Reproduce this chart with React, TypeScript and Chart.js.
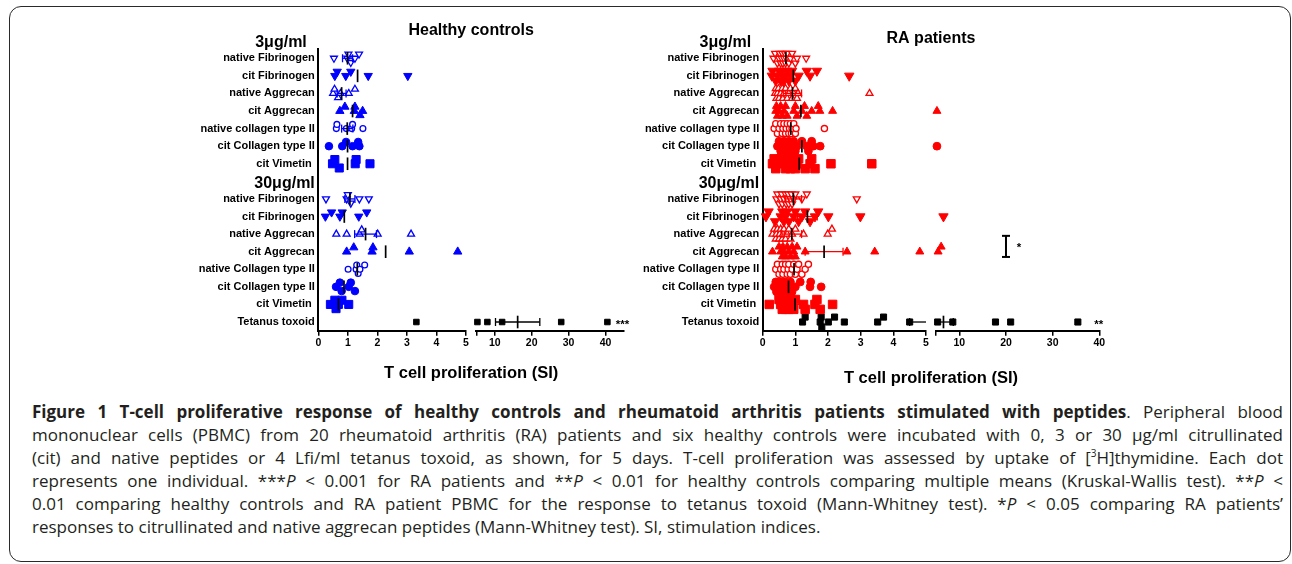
import React, { useEffect, useLayoutEffect, useRef } from 'react';
import { Chart, registerables } from 'chart.js';

Chart.register(...registerables);

const CHART_FONT = "'Liberation Sans', Arial, Helvetica, sans-serif";
const CAPTION_FONT = "'Open Sans', 'Noto Sans', sans-serif";

// ---------- categories & tick labels ----------
const labels3ug = ['native Fibrinogen', 'cit Fibrinogen', 'native Aggrecan', 'cit Aggrecan', 'native collagen type II', 'cit Collagen type II', 'cit Vimetin '];
const labels30ug = ['native Fibrinogen', 'cit Fibrinogen', 'native Aggrecan', 'cit Aggrecan', 'native Collagen type II', 'cit Collagen type II', 'cit Vimetin '];
const labelTetanus = 'Tetanus toxoid';
const categories = [...labels3ug, ...labels30ug, labelTetanus];
const categoryRows = [0, 1, 2, 3, 4, 5, 6, 8, 9, 10, 11, 12, 13, 14, 15];
const doseHeaders = ['3\u03bcg/ml\u2002', '30\u03bcg/ml'];
const doseHeaderRows = [-0.87, 7.12];
const markerKinds = ['triDownOpen', 'triDown', 'triOpen', 'tri', 'circleOpen', 'circle', 'square',
  'triDownOpen', 'triDown', 'triOpen', 'tri', 'circleOpen', 'circle', 'square', 'tetanus'];

const xLowTicks = [0, 1, 2, 3, 4, 5];
const xHighTicks = [5, 10, 20, 30, 40];
const X_BREAK = 5;
const hcHighMax = 45;
const raHighMax = 40;

// ---------- healthy controls (n = 6) ----------
const hcValues: number[][] = [
  [0.53, 0.98, 1.02, 1.1, 1.24, 1.38],
  [0.56, 0.64, 0.93, 1.1, 1.69, 3.03],
  [0.5, 0.55, 0.67, 0.75, 1.03, 1.24],
  [0.73, 0.9, 1.22, 1.24, 1.41, 1.5],
  [0.61, 0.63, 0.95, 1.13, 1.16, 1.51],
  [0.36, 0.81, 0.94, 1.16, 1.35, 1.39],
  [0.48, 0.56, 0.71, 1.25, 1.28, 1.75],
  [0.26, 0.96, 1.0, 1.1, 1.39, 1.71],
  [0.24, 0.45, 0.73, 0.81, 1.37, 1.64],
  [0.61, 0.96, 1.4, 1.47, 2.01, 3.14],
  [0.96, 1.2, 1.82, 1.85, 3.08, 4.72],
  [1.01, 1.28, 1.3, 1.35, 1.41, 1.57],
  [0.6, 0.73, 0.79, 1.03, 1.1, 1.24],
  [0.41, 0.56, 0.6, 0.68, 0.8, 1.03],
  [3.32, 5.3, 8.0, 12.0, 28.0, 40.5],
];
const hcMeans = [0.99, 1.33, 0.79, 1.16, 0.98, 0.99, 0.99, 1.07, 0.88, 1.6, 2.28, 1.32, 0.87, 0.68, 16.2];
const hcSems = [0.17, 0, 0.15, 0, 0.19, 0, 0, 0.17, 0, 0.37, 0, 0, 0, 0, 6.0];
const hcNotes = [{ text: '***', x: 44.6, row: 15 }];

// ---------- RA patients (n = 20) ----------
const raValues: number[][] = [
  [0.33, 0.38, 0.45, 0.5, 0.52, 0.55, 0.58, 0.6, 0.62, 0.65, 0.68, 0.7, 0.72, 0.75, 0.8, 0.85, 0.9, 1.0, 1.05, 1.33],
  [0.28, 0.3, 0.4, 0.45, 0.5, 0.55, 0.6, 0.62, 0.65, 0.7, 0.75, 0.8, 0.85, 0.9, 1.0, 1.1, 1.35, 1.45, 1.66, 2.65],
  [0.38, 0.4, 0.42, 0.45, 0.48, 0.5, 0.55, 0.6, 0.62, 0.65, 0.7, 0.75, 0.8, 0.85, 0.9, 0.95, 1.0, 1.05, 1.08, 3.27],
  [0.4, 0.42, 0.45, 0.5, 0.55, 0.6, 0.65, 0.7, 0.75, 0.95, 1.0, 1.05, 1.2, 1.28, 1.35, 1.5, 1.7, 1.75, 2.14, 5.2],
  [0.35, 0.4, 0.45, 0.5, 0.55, 0.6, 0.62, 0.65, 0.7, 0.72, 0.75, 0.8, 0.82, 0.85, 0.88, 0.9, 0.95, 1.0, 1.02, 1.89],
  [0.45, 0.5, 0.55, 0.6, 0.65, 0.7, 0.75, 0.8, 0.85, 0.9, 0.95, 1.0, 1.05, 1.2, 1.35, 1.4, 1.5, 1.55, 1.76, 5.2],
  [0.3, 0.35, 0.4, 0.5, 0.55, 0.7, 0.75, 0.8, 0.85, 0.9, 0.95, 1.0, 1.05, 1.1, 1.3, 1.45, 1.5, 1.6, 2.09, 3.34],
  [0.42, 0.45, 0.5, 0.55, 0.58, 0.6, 0.65, 0.7, 0.72, 0.75, 0.78, 0.8, 0.85, 0.88, 0.9, 0.95, 1.0, 1.2, 1.35, 2.88],
  [0.1, 0.18, 0.38, 0.55, 0.6, 0.65, 0.7, 0.75, 0.8, 0.95, 1.0, 1.1, 1.2, 1.3, 1.45, 1.6, 1.7, 2.01, 2.99, 6.6],
  [0.3, 0.35, 0.4, 0.42, 0.45, 0.5, 0.52, 0.55, 0.6, 0.62, 0.65, 0.7, 0.75, 0.8, 0.85, 0.9, 1.0, 1.25, 1.99, 2.12],
  [0.3, 0.5, 0.55, 0.6, 0.62, 0.65, 0.7, 0.75, 0.8, 0.85, 0.9, 0.95, 1.0, 1.05, 1.3, 2.58, 3.43, 4.81, 5.45, 6.1],
  [0.4, 0.45, 0.5, 0.55, 0.6, 0.62, 0.65, 0.7, 0.75, 0.78, 0.8, 0.85, 0.9, 0.95, 1.0, 1.05, 1.1, 1.2, 1.3, 1.4],
  [0.35, 0.4, 0.42, 0.45, 0.5, 0.52, 0.55, 0.6, 0.62, 0.65, 0.7, 0.75, 0.8, 0.85, 0.9, 1.0, 1.15, 1.45, 1.47, 1.79],
  [0.2, 0.5, 0.55, 0.6, 0.62, 0.65, 0.7, 0.72, 0.75, 0.8, 0.85, 0.9, 0.95, 1.0, 1.25, 1.3, 1.6, 1.66, 1.76, 2.14],
  [1.22, 1.3, 1.76, 1.79, 1.81, 2.01, 2.2, 2.5, 3.52, 3.7, 4.5, 5.35, 8.6, 17.75, 21.0, 35.4],
];
const raMeans = [0.71, 0.94, 0.91, 1.17, 0.86, 1.2, 1.12, 0.94, 1.37, 0.89, 1.88, 0.96, 0.79, 0.99, 6.6];
const raSems = [0, 0, 0.28, 0, 0, 0, 0, 0.25, 0.3, 0.3, 0.58, 0, 0, 0.15, 2.1];
const raNotes = [{ text: '**', x: 39.9, row: 15 }, { text: '*', x: 22.8, row: 10.62 }];
const raBracket = [{ x: 20, row: 10.1 }, { x: 20, row: 11.3 }];

// ---------- marker shapes ----------
const markerShapes: Record<string, { style: string; rot: number; open: boolean }> = {
  triDownOpen: { style: 'triangle', rot: 180, open: true },
  triDown: { style: 'triangle', rot: 180, open: false },
  triOpen: { style: 'triangle', rot: 0, open: true },
  tri: { style: 'triangle', rot: 0, open: false },
  circleOpen: { style: 'circle', rot: 0, open: true },
  circle: { style: 'circle', rot: 0, open: false },
  square: { style: 'rect', rot: 0, open: false },
  tetanus: { style: 'rect', rot: 0, open: false },
};

type Note = { text: string; x: number; row: number };
type Panel = {
  key: string; title: string; values: number[][]; means: number[]; sems: number[];
  notes: Note[]; bracket?: { x: number; row: number }[];
  color: string; highMax: number; radii: Record<string, number>;
  left: number; width: number; height: number; yAxisWidth: number; padRight: number;
  titlePad: { top: number; bottom: number }; xTitlePad: { top: number; bottom: number };
  gapWeight: number; ppuLow: number; ppuHigh: number; jitterStep: number;
};

const panels: Panel[] = [
  {
    key: 'hc', title: 'Healthy controls', values: hcValues, means: hcMeans, sems: hcSems, notes: hcNotes,
    color: '#0000ff', highMax: hcHighMax,
    radii: { triDownOpen: 4, triDown: 4.8, triOpen: 4, tri: 4.8, circleOpen: 2.9, circle: 3.8, square: 5.7, tetanus: 3.9 },
    left: 0, width: 640, height: 387, yAxisWidth: 318.3, padRight: 16,
    titlePad: { top: 21.4, bottom: 8 }, xTitlePad: { top: 12.4, bottom: 4 },
    gapWeight: 0.0697, ppuLow: 29.5, ppuHigh: 3.69, jitterStep: 0.24,
  },
  {
    key: 'ra', title: 'RA patients', values: raValues, means: raMeans, sems: raSems, notes: raNotes, bracket: raBracket,
    color: '#ff0000', highMax: raHighMax,
    radii: { triDownOpen: 4, triDown: 5.4, triOpen: 4, tri: 4.6, circleOpen: 3.1, circle: 3.9, square: 6, tetanus: 4.3 },
    left: 640, width: 480, height: 392, yAxisWidth: 122.7, padRight: 20.7,
    titlePad: { top: 28.7, bottom: 0.7 }, xTitlePad: { top: 17.4, bottom: 4 },
    gapWeight: 0.0613, ppuLow: 32.6, ppuHigh: 4.65, jitterStep: 0.28,
  },
];

// y tick values and their texts
const yTickValues = [doseHeaderRows[0], ...categoryRows.slice(0, 7), doseHeaderRows[1], ...categoryRows.slice(7)];
const yTickText = new Map<number, string>();
yTickText.set(doseHeaderRows[0], doseHeaders[0]);
yTickText.set(doseHeaderRows[1], doseHeaders[1]);
categoryRows.forEach((r, i) => yTickText.set(r, categories[i]));

// spread overlapping points of one row vertically (GraphPad-like column scatter)
function jitter(vals: number[], p: Panel, radius: number): number[] {
  const px = (v: number) => (v <= X_BREAK ? v * p.ppuLow : X_BREAK * p.ppuLow + 10 + (v - X_BREAK) * p.ppuHigh);
  const order = vals.map((_, i) => i).sort((a, b) => vals[a] - vals[b]);
  const last: Record<number, number> = {};
  const levels = [0, -1, 1];
  const minGap = radius * 1.7;
  const out = new Array(vals.length).fill(0);
  for (const i of order) {
    const pos = px(vals[i]);
    let best = 0;
    let bestD = -1;
    for (const L of levels) {
      const d = last[L] === undefined ? Infinity : pos - last[L];
      if (d >= minGap) { best = L; break; }
      if (d > bestD) { bestD = d; best = L; }
    }
    last[best] = pos;
    out[i] = best * p.jitterStep;
  }
  return out;
}

function buildDatasets(p: Panel) {
  const sets: any[] = [];
  p.values.forEach((vals, i) => {
    const row = categoryRows[i];
    const kind = markerKinds[i];
    const shape = markerShapes[kind];
    const r = p.radii[kind];
    const col = kind === 'tetanus' ? '#000000' : p.color;
    const offs = jitter(vals, p, r);
    const low: any[] = [];
    const high: any[] = [];
    vals.forEach((v, k) => (v <= X_BREAK ? low : high).push({ x: v, y: row + offs[k] }));
    ([['x', low], ['x2', high]] as [string, any[]][]).forEach(([axis, pts]) => {
      if (!pts.length) return;
      sets.push({
        type: 'scatter', label: categories[i], xAxisID: axis, data: pts,
        pointStyle: shape.style, pointRotation: shape.rot, pointRadius: r,
        pointBackgroundColor: shape.open ? '#ffffff' : col, pointBorderColor: col,
        pointBorderWidth: shape.open ? 1.3 : 1, clip: false, order: 2,
      });
    });
    const m = p.means[i];
    const s = p.sems[i];
    if (s > 0) {
      const lo = m - s;
      const hi = m + s;
      const pieces: [string, number, number, number, number][] =
        hi <= X_BREAK ? [['x', lo, hi, 4, 4]]
          : lo >= X_BREAK ? [['x2', lo, hi, 4, 4]]
            : [['x', lo, X_BREAK, 4, 0], ['x2', X_BREAK, hi, 0, 4]];
      pieces.forEach(([axis, a, b, ra, rb]) => sets.push({
        type: 'scatter', label: 'SEM', xAxisID: axis, data: [{ x: a, y: row }, { x: b, y: row }],
        showLine: true, borderColor: col, borderWidth: 1.3,
        pointStyle: 'line', pointRotation: 90, pointRadius: [ra, rb],
        pointBorderColor: col, pointBorderWidth: 1.3, clip: false, order: 1,
      }));
    }
    sets.push({
      type: 'scatter', label: 'mean', xAxisID: m <= X_BREAK ? 'x' : 'x2', data: [{ x: m, y: row }],
      pointStyle: 'line', pointRotation: 90, pointRadius: 6.3,
      pointBorderColor: '#000000', pointBorderWidth: 1.7, clip: false, order: 0,
    });
  });
  if (p.bracket) {
    sets.push({
      type: 'scatter', label: 'bracket', xAxisID: 'x2', data: p.bracket.map((b) => ({ x: b.x, y: b.row })),
      showLine: true, borderColor: '#000000', borderWidth: 2,
      pointStyle: 'line', pointRotation: 0, pointRadius: 4,
      pointBorderColor: '#000000', pointBorderWidth: 2, clip: false, order: 0,
    });
  }
  return sets;
}

function notesPlugin(p: Panel) {
  return {
    id: 'notes_' + p.key,
    afterDatasetsDraw(chart: any) {
      const { ctx } = chart;
      const xs = chart.scales.x2;
      const ys = chart.scales.y;
      ctx.save();
      ctx.fillStyle = '#000000';
      ctx.font = `bold 11.5px ${CHART_FONT}`;
      ctx.textAlign = 'center';
      ctx.textBaseline = 'middle';
      p.notes.forEach((n) => ctx.fillText(n.text, xs.getPixelForValue(n.x), ys.getPixelForValue(n.row) + 2.5));
      ctx.restore();
    },
  };
}

function buildConfig(p: Panel): any {
  const xTickFont = { family: CHART_FONT, size: 10.5, weight: 'bold' };
  const xGrid = { display: true, drawOnChartArea: false, drawTicks: true, tickLength: 5, color: '#000000', lineWidth: 1.5 };
  const xBorder = { display: true, color: '#000000', width: 2 };
  const fitX = (s: any) => { s.height = 20; };
  return {
    type: 'scatter',
    data: { datasets: buildDatasets(p) },
    plugins: [notesPlugin(p)],
    options: {
      responsive: false,
      animation: false,
      events: [],
      layout: { padding: { left: 0, right: p.padRight, top: 0, bottom: 0 } },
      plugins: {
        legend: { display: false },
        tooltip: { enabled: false },
        title: {
          display: true, text: p.title, position: 'top', fullSize: false, color: '#000000',
          font: { family: CHART_FONT, size: 16, weight: 'bold', lineHeight: 1.2 }, padding: p.titlePad,
        },
        subtitle: {
          display: true, text: 'T cell proliferation (SI)', position: 'bottom', fullSize: false, color: '#000000',
          font: { family: CHART_FONT, size: 16.5, weight: 'bold', lineHeight: 1.2 }, padding: p.xTitlePad,
        },
      },
      scales: {
        x: {
          type: 'linear', position: 'bottom', stack: 'brk', stackWeight: 1, min: 0, max: X_BREAK,
          afterBuildTicks: (s: any) => { s.ticks = xLowTicks.map((v) => ({ value: v })); },
          afterFit: fitX, grid: xGrid, border: xBorder,
          ticks: { autoSkip: false, maxRotation: 0, padding: 1, color: '#000000', font: xTickFont, callback: (v: any) => String(v) },
        },
        gap: {
          type: 'linear', position: 'bottom', stack: 'brk', stackWeight: p.gapWeight, min: 0, max: 1,
          afterFit: fitX, grid: { display: false }, border: { display: false }, ticks: { display: false },
        },
        x2: {
          type: 'linear', position: 'bottom', stack: 'brk', stackWeight: 1, min: X_BREAK, max: p.highMax,
          afterBuildTicks: (s: any) => { s.ticks = xHighTicks.map((v) => ({ value: v })); },
          afterFit: fitX, grid: xGrid, border: xBorder,
          ticks: { autoSkip: false, maxRotation: 0, padding: 1, color: '#000000', font: xTickFont, callback: (v: any) => (v === X_BREAK ? '' : String(v)) },
        },
        y: {
          type: 'linear', position: 'left', reverse: true, min: -0.55, max: 15.5, bounds: 'data',
          afterBuildTicks: (s: any) => { s.ticks = yTickValues.map((v) => ({ value: v })); },
          afterFit: (s: any) => { s.width = p.yAxisWidth; },
          grid: { display: false, drawTicks: false },
          border: { display: true, color: '#000000', width: 2 },
          ticks: {
            autoSkip: false, padding: 3.5, color: '#000000',
            callback: (v: any) => yTickText.get(v) ?? '',
            font: (c: any) => (c.tick && doseHeaderRows.includes(c.tick.value)
              ? { family: CHART_FONT, size: 16, weight: 'bold', lineHeight: 1.2 }
              : { family: CHART_FONT, size: 11, weight: 'bold', lineHeight: 1.2 }),
          },
        },
      },
    },
  };
}

function ScatterPanel({ panel }: { panel: Panel }) {
  const ref = useRef<HTMLCanvasElement>(null);
  useEffect(() => {
    if (!ref.current) return;
    const chart = new Chart(ref.current, buildConfig(panel));
    return () => chart.destroy();
  }, [panel]);
  return (
    <canvas
      ref={ref}
      width={panel.width}
      height={panel.height}
      style={{ position: 'absolute', left: panel.left, top: 0, width: panel.width, height: panel.height }}
    />
  );
}

// ---------- caption ----------
const CAPTION_LEFT = 32;
const CAPTION_WIDTH = 1251;
const captionLines: React.ReactNode[] = [
  <><b>Figure 1 T-cell proliferative response of healthy controls and rheumatoid arthritis patients stimulated with peptides</b>. Peripheral blood</>,
  <>mononuclear cells (PBMC) from 20 rheumatoid arthritis (RA) patients and six healthy controls were incubated with 0, 3 or 30 µg/ml citrullinated</>,
  <>(cit) and native peptides or 4 Lfi/ml tetanus toxoid, as shown, for 5 days. T-cell proliferation was assessed by uptake of [<sup style={{ fontSize: 10, lineHeight: 0, verticalAlign: 'super' }}>3</sup>H]thymidine. Each dot</>,
  <>represents one individual. ***<i>P</i> {'<'} 0.001 for RA patients and **<i>P</i> {'<'} 0.01 for healthy controls comparing multiple means (Kruskal-Wallis test). **<i>P</i> {'<'}</>,
  <>0.01 comparing healthy controls and RA patient PBMC for the response to tetanus toxoid (Mann-Whitney test). *<i>P</i> {'<'} 0.05 comparing RA patients{'\u2019'}</>,
  <>responses to citrullinated and native aggrecan peptides (Mann-Whitney test). SI, stimulation indices.</>,
];

function Caption() {
  const refs = useRef<(HTMLSpanElement | null)[]>([]);
  useLayoutEffect(() => {
    const apply = () => {
      refs.current.forEach((el, i) => {
        if (!el || i === captionLines.length - 1) return;
        el.style.wordSpacing = '0px';
        const w = el.getBoundingClientRect().width;
        const n = (el.textContent || '').split(' ').length - 1;
        if (n > 0) el.style.wordSpacing = `${(CAPTION_WIDTH - w) / n}px`;
      });
    };
    apply();
    const fonts = (document as any).fonts;
    if (fonts && fonts.ready) fonts.ready.then(apply);
  }, []);
  return (
    <div style={{
      position: 'absolute', left: CAPTION_LEFT, top: 400, width: CAPTION_WIDTH,
      fontFamily: CAPTION_FONT, fontSize: 17, lineHeight: '23.1px', color: '#231f20',
    }}>
      {captionLines.map((line, i) => (
        <div key={i} style={{ height: 23.1, whiteSpace: 'nowrap' }}>
          <span ref={(el) => { refs.current[i] = el; }} style={{ display: 'inline-block', whiteSpace: 'pre' }}>{line}</span>
        </div>
      ))}
    </div>
  );
}

export default function App() {
  return (
    <div style={{ position: 'absolute', left: 0, top: 0, width: 1292, height: 564, background: '#ffffff', overflow: 'hidden' }}>
      <div style={{
        position: 'absolute', left: 9, top: 6, width: 1282, height: 556, boxSizing: 'border-box',
        border: '1.6px solid #2a2a2a', borderRadius: 12,
      }} />
      {panels.map((p) => <ScatterPanel key={p.key} panel={p} />)}
      <Caption />
    </div>
  );
}
